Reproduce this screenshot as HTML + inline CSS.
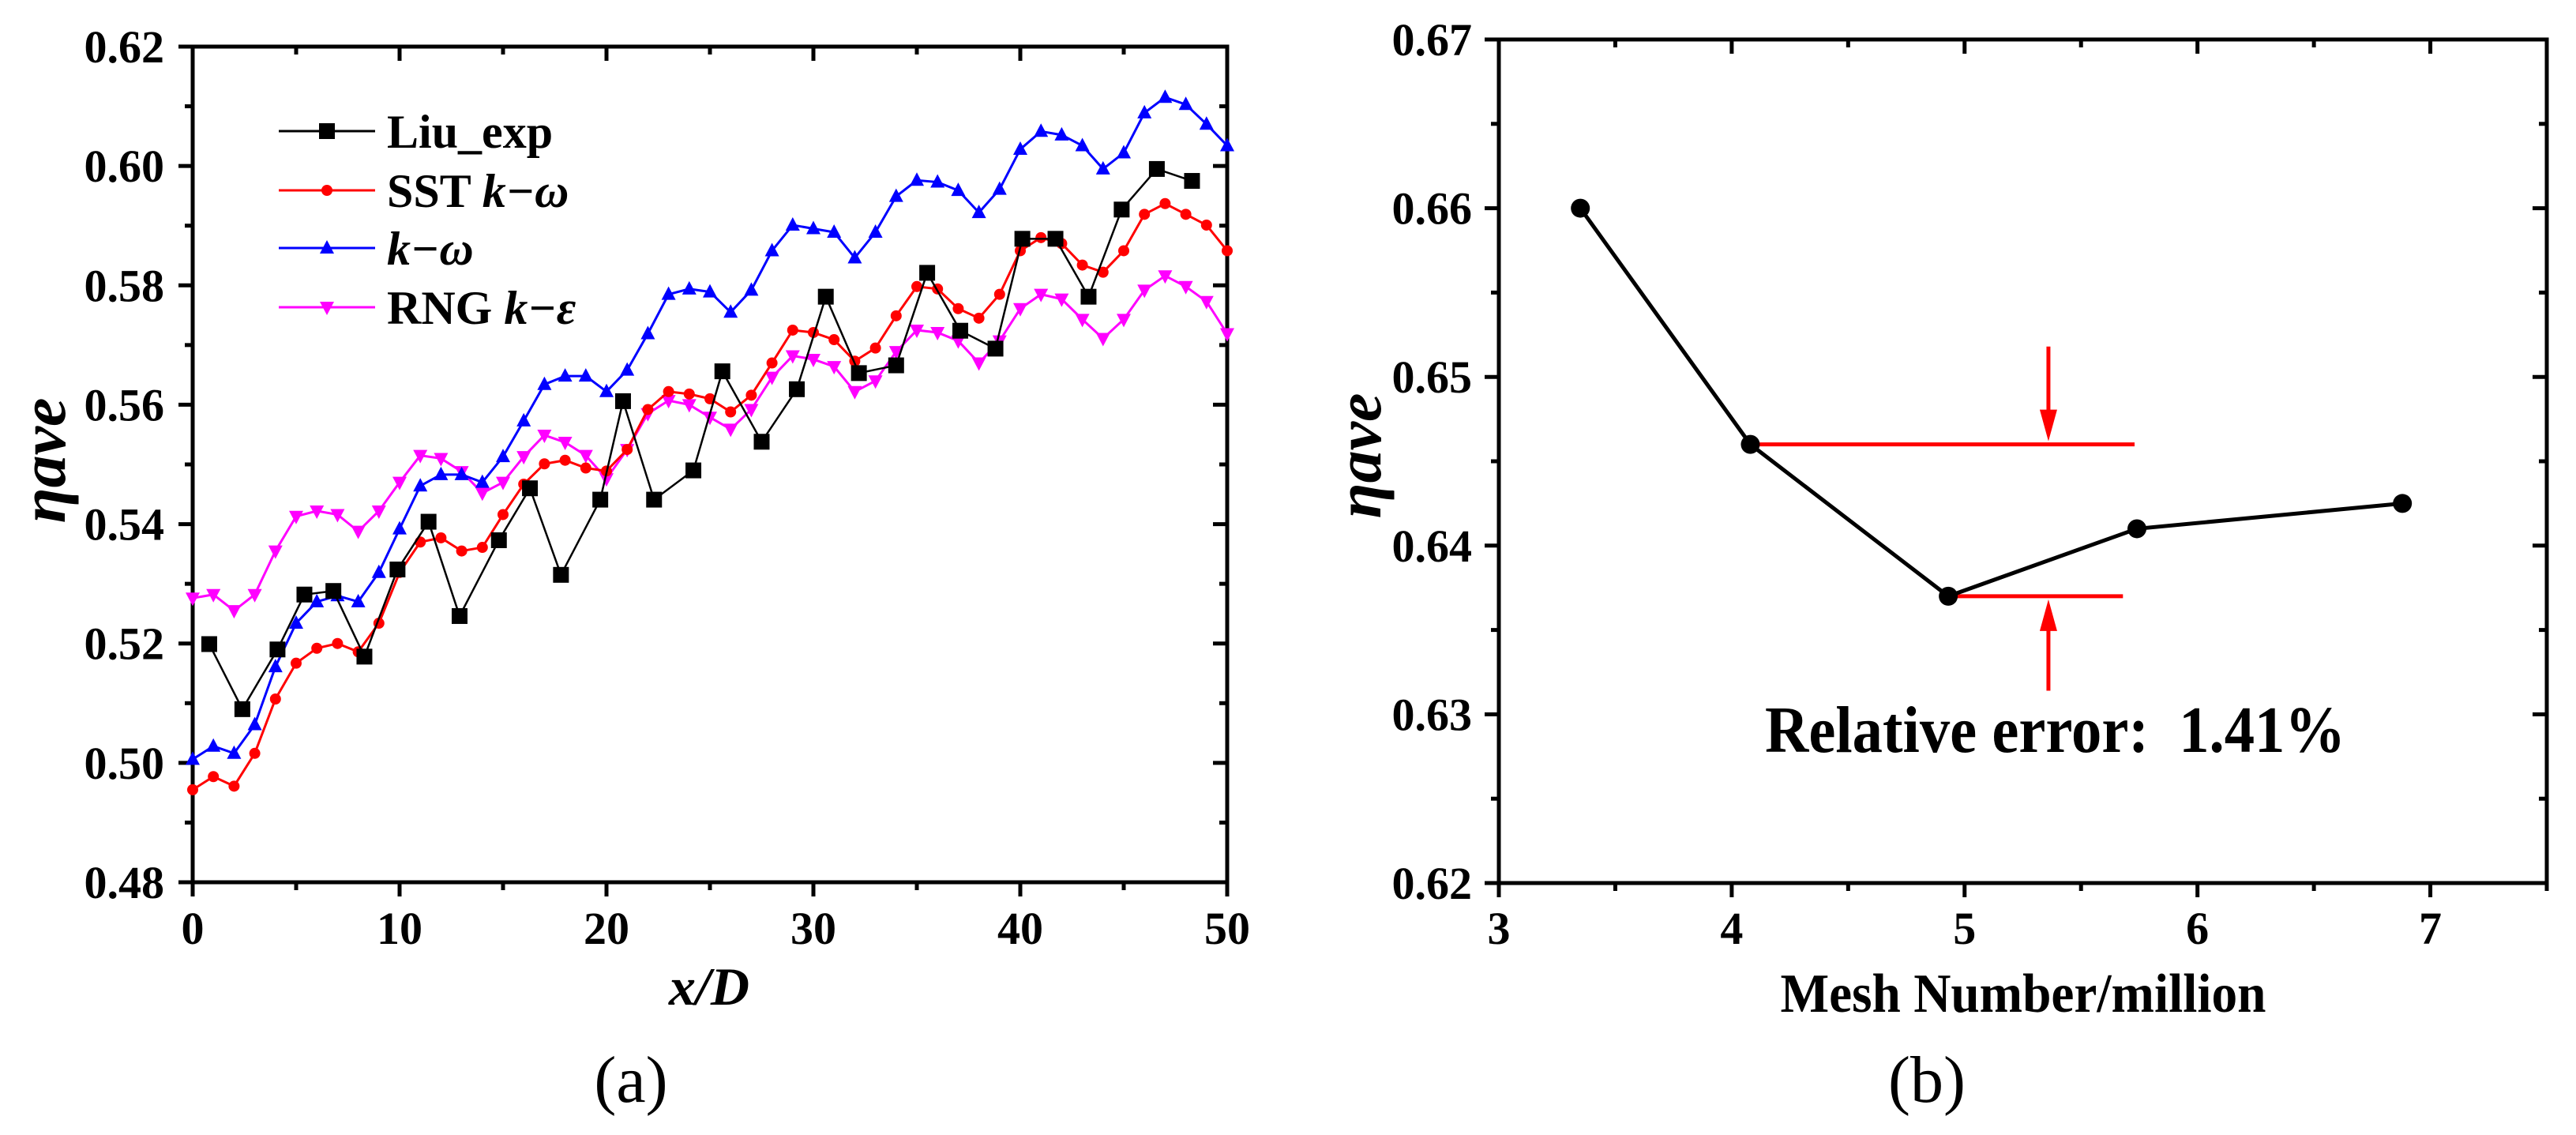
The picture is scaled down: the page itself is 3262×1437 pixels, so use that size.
<!DOCTYPE html>
<html><head><meta charset="utf-8">
<style>
html,body{margin:0;padding:0;background:#fff;}
svg{display:block;font-family:"Liberation Serif",serif;}
</style></head>
<body>
<svg id="fig" width="3262" height="1437" viewBox="0 0 3262 1437" xmlns="http://www.w3.org/2000/svg">
<g id="chartA"></g>
<g id="chartB"></g>
</svg>
<script>
const xsModel = [0,1,2,3,4,5,6,7,8,9,10,11,12,13,14,15,16,17,18,19,20,21,22,23,24,25,26,27,28,29,30,31,32,33,34,35,36,37,38,39,40,41,42,43,44,45,46,47,48,49,50];
const sstValues = [0.4955,0.4977,0.4961,0.5016,0.5107,0.5167,0.5192,0.5200,0.5186,0.5234,0.5319,0.5370,0.5377,0.5355,0.5361,0.5416,0.5467,0.5501,0.5507,0.5494,0.5489,0.5525,0.5592,0.5622,0.5618,0.5610,0.5588,0.5616,0.5670,0.5725,0.5721,0.5709,0.5673,0.5695,0.5749,0.5798,0.5794,0.5761,0.5745,0.5785,0.5858,0.5880,0.5870,0.5834,0.5822,0.5858,0.5919,0.5937,0.5919,0.5901,0.5858];
const kwValues = [0.5006,0.5028,0.5016,0.5064,0.5161,0.5234,0.5270,0.5280,0.5270,0.5319,0.5392,0.5464,0.5483,0.5483,0.5470,0.5513,0.5573,0.5634,0.5648,0.5648,0.5622,0.5658,0.5719,0.5785,0.5794,0.5789,0.5755,0.5792,0.5858,0.5901,0.5895,0.5889,0.5846,0.5889,0.5949,0.5976,0.5973,0.5959,0.5922,0.5961,0.6028,0.6058,0.6052,0.6034,0.5995,0.6022,0.6089,0.6115,0.6103,0.6070,0.6034];
const rngValues = [0.5276,0.5282,0.5255,0.5282,0.5355,0.5413,0.5422,0.5416,0.5388,0.5422,0.5470,0.5515,0.5510,0.5488,0.5452,0.5470,0.5513,0.5549,0.5537,0.5515,0.5476,0.5525,0.5585,0.5607,0.5600,0.5579,0.5559,0.5592,0.5646,0.5682,0.5676,0.5664,0.5622,0.5640,0.5689,0.5725,0.5721,0.5707,0.5670,0.5707,0.5761,0.5785,0.5777,0.5743,0.5711,0.5743,0.5792,0.5816,0.5798,0.5773,0.5719];
const expX = [0.8,2.4,4.1,5.4,6.8,8.3,9.9,11.4,12.9,14.8,16.3,17.8,19.7,20.8,22.3,24.2,25.6,27.5,29.2,30.6,32.2,34.0,35.5,37.1,38.8,40.1,41.7,43.3,44.9,46.6,48.3];
const expY = [0.5199,0.5090,0.5190,0.5282,0.5288,0.5178,0.5324,0.5404,0.5246,0.5373,0.5460,0.5315,0.5441,0.5606,0.5441,0.5490,0.5656,0.5538,0.5626,0.5781,0.5653,0.5666,0.5821,0.5724,0.5694,0.5878,0.5878,0.5781,0.5927,0.5995,0.5975];
const xTicksA = [0,10,20,30,40,50];
const yTicksA = [0.48,0.50,0.52,0.54,0.56,0.58,0.60,0.62];
const meshX = [3.35,4.08,4.93,5.74,6.88];
const meshY = [0.660,0.646,0.637,0.641,0.6425];
const xTicksB = [3,4,5,6,7];
const yTicksB = [0.62,0.63,0.64,0.65,0.66,0.67];

const NS='http://www.w3.org/2000/svg';
function mk(parent,tag,attrs,text){const e=document.createElementNS(NS,tag);for(const k in attrs)e.setAttribute(k,attrs[k]);if(text!==undefined)e.textContent=text;parent.appendChild(e);return e;}

// ---------- chart A ----------
const A=document.getElementById('chartA');
const aL=244,aR=1554,aT=59,aB=1117;
const ax=v=>aL+(v-0)/50*(aR-aL);
const ay=v=>aB-(v-0.48)/0.14*(aB-aT);
for(let v=0;v<=50;v+=5){const major=v%10===0;const x=ax(v);const l=major?18:10;
 const t1=mk(A,'line',{x1:x,y1:aB,x2:x,y2:aB+l,stroke:'#000','stroke-width':5});
 
 const t2=mk(A,'line',{x1:x,y1:aT,x2:x,y2:aT+l,stroke:'#000','stroke-width':5});
 }
for(let i=0;i<=14;i++){const v=0.48+i*0.01;const major=i%2===0;const y=ay(v);const l=major?18:10;
 const t1=mk(A,'line',{x1:aL-l,y1:y,x2:aL,y2:y,stroke:'#000','stroke-width':5});
 
 const t2=mk(A,'line',{x1:aR-l,y1:y,x2:aR,y2:y,stroke:'#000','stroke-width':5});
 }
const frA=mk(A,'rect',{x:aL,y:aT,width:aR-aL,height:aB-aT,fill:'none',stroke:'#000','stroke-width':5});

xTicksA.forEach(v=>{const t=mk(A,'text',{x:ax(v),y:1195,'text-anchor':'middle','font-size':58,'font-weight':'bold'},String(v));
 });
yTicksA.forEach(v=>{const t=mk(A,'text',{x:208,y:ay(v)+20,'text-anchor':'end','font-size':58,'font-weight':'bold'},v.toFixed(2));
 });
function poly(g,xs,ys,col,w,name){const pts=xs.map((x,i)=>ax(x)+','+ay(ys[i])).join(' ');
 const p=mk(g,'polyline',{points:pts,fill:'none',stroke:col,'stroke-width':w});
 }
function triUp(g,x,y,c){return mk(g,'polygon',{points:`${x},${y-10} ${x-9},${y+7} ${x+9},${y+7}`,fill:c});}
function triDn(g,x,y,c){return mk(g,'polygon',{points:`${x},${y+10} ${x-9},${y-7} ${x+9},${y-7}`,fill:c});}
poly(A,xsModel,rngValues,'#ff00ff',3,'rng-line');
xsModel.forEach((x,i)=>{const m=triDn(A,ax(x),ay(rngValues[i]),'#ff00ff');});
poly(A,xsModel,kwValues,'#0000ff',3,'kw-line');
xsModel.forEach((x,i)=>{const m=triUp(A,ax(x),ay(kwValues[i]),'#0000ff');});
poly(A,xsModel,sstValues,'#ff0000',3,'sst-line');
xsModel.forEach((x,i)=>{const m=mk(A,'circle',{cx:ax(x),cy:ay(sstValues[i]),r:7,fill:'#ff0000'});});
poly(A,expX,expY,'#000',2.5,'exp-line');
expX.forEach((x,i)=>{const m=mk(A,'rect',{x:ax(x)-10,y:ay(expY[i])-10,width:20,height:20,fill:'#000'});});
const leg=[['Liu_exp','#000','sq',null],['SST ','#ff0000','ci','k\u2212\u03c9'],['','#0000ff','tu','k\u2212\u03c9'],['RNG ','#ff00ff','td','k\u2212\u03b5']];
const lyPos=[166,241,314,389];
leg.forEach((e,i)=>{const y=lyPos[i];const g=mk(A,'g',{});
 
 mk(g,'line',{x1:353,y1:y,x2:475,y2:y,stroke:e[1],'stroke-width':3});
 if(e[2]==='sq')mk(g,'rect',{x:404,y:y-10,width:20,height:20,fill:e[1]});
 if(e[2]==='ci')mk(g,'circle',{cx:414,cy:y,r:7,fill:e[1]});
 if(e[2]==='tu')triUp(g,414,y,e[1]);
 if(e[2]==='td')triDn(g,414,y,e[1]);
 const t=mk(g,'text',{x:490,y:y+21,'font-size':60,'font-weight':'bold'});
 mk(t,'tspan',{},e[0]);if(e[3])mk(t,'tspan',{'font-style':'italic'},e[3]);});
const xtA=mk(A,'text',{x:898,y:1272,'text-anchor':'middle','font-size':68,'font-weight':'bold','font-style':'italic'},'x/D');

const ytA=mk(A,'text',{x:0,y:0,transform:'translate(82,583) rotate(-90)','text-anchor':'middle','font-size':82,'font-style':'italic','font-weight':'bold'},'\u03b7ave');

const capA=mk(A,'text',{x:799,y:1395,'text-anchor':'middle','font-size':84},'(a)');


// ---------- chart B ----------
const B=document.getElementById('chartB');
const bL=1898,bR=3225,bT=50,bB=1118;
const bx=v=>bL+(v-3)/4.5*(bR-bL);
const by=v=>bB-(v-0.62)/0.05*(bB-bT);
for(let i=0;i<=9;i++){const v=3+i*0.5;const major=i%2===0;const x=bx(v);const l=major?18:10;
 const t1=mk(B,'line',{x1:x,y1:bB,x2:x,y2:bB+l,stroke:'#000','stroke-width':5});
 
 const t2=mk(B,'line',{x1:x,y1:bT,x2:x,y2:bT+l,stroke:'#000','stroke-width':5});
 }
for(let i=0;i<=10;i++){const v=0.62+i*0.005;const major=i%2===0;const y=by(v);const l=major?18:10;
 const t1=mk(B,'line',{x1:bL-l,y1:y,x2:bL,y2:y,stroke:'#000','stroke-width':5});
 
 const t2=mk(B,'line',{x1:bR-l,y1:y,x2:bR,y2:y,stroke:'#000','stroke-width':5});
 }
const frB=mk(B,'rect',{x:bL,y:bT,width:bR-bL,height:bB-bT,fill:'none',stroke:'#000','stroke-width':5});

xTicksB.forEach(v=>{const t=mk(B,'text',{x:bx(v),y:1195,'text-anchor':'middle','font-size':58,'font-weight':'bold'},String(v));
 });
yTicksB.forEach(v=>{const t=mk(B,'text',{x:1864,y:by(v)+20,'text-anchor':'end','font-size':58,'font-weight':'bold'},v.toFixed(2));
 });
function rl(x1,y1,x2,y2,name){const l=mk(B,'line',{x1:x1,y1:y1,x2:x2,y2:y2,stroke:'#ff0000','stroke-width':5});}
rl(bx(meshX[1]),by(meshY[1]),bx(5.73),by(meshY[1]),'upper-reference-line');
rl(bx(meshX[2]),by(meshY[2]),bx(5.68),by(meshY[2]),'lower-reference-line');
const axA=bx(5.36);
rl(axA,by(0.6518),axA,by(meshY[1])-40,'down-arrow-shaft');
const ah1=mk(B,'polygon',{points:`${axA},${by(meshY[1])-4} ${axA-11},${by(meshY[1])-44} ${axA+11},${by(meshY[1])-44}`,fill:'#ff0000'});

rl(axA,by(0.6314),axA,by(meshY[2])+40,'up-arrow-shaft');
const ah2=mk(B,'polygon',{points:`${axA},${by(meshY[2])+4} ${axA-11},${by(meshY[2])+44} ${axA+11},${by(meshY[2])+44}`,fill:'#ff0000'});

const pB=mk(B,'polyline',{points:meshX.map((x,i)=>bx(x)+','+by(meshY[i])).join(' '),fill:'none',stroke:'#000','stroke-width':5});

meshX.forEach((x,i)=>{const c=mk(B,'circle',{cx:bx(x),cy:by(meshY[i]),r:12,fill:'#000'});});
const ann=mk(B,'text',{x:2235,y:952,'font-size':84,'font-weight':'bold',textLength:735,lengthAdjust:'spacingAndGlyphs'},'Relative error:\u00a0\u00a01.41%');

const xtB=mk(B,'text',{x:2562,y:1281,'text-anchor':'middle','font-size':70,'font-weight':'bold',textLength:615,lengthAdjust:'spacingAndGlyphs'},'Mesh Number/million');

const ytB=mk(B,'text',{x:0,y:0,transform:'translate(1748,577) rotate(-90)','text-anchor':'middle','font-size':82,'font-style':'italic','font-weight':'bold'},'\u03b7ave');

const capB=mk(B,'text',{x:2440,y:1395,'text-anchor':'middle','font-size':84},'(b)');

</script>
</body></html>
